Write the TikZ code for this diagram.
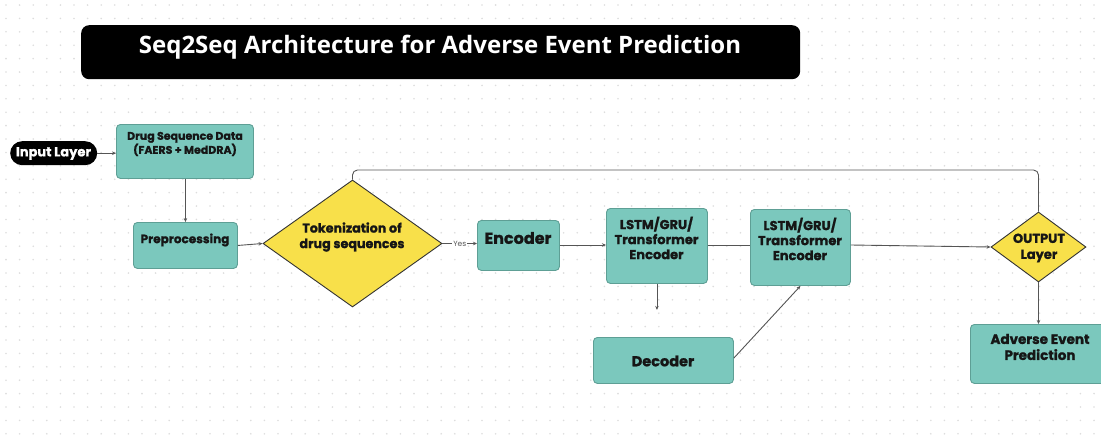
\documentclass[tikz,border=0pt]{standalone}
\usepackage{fontspec}
\setmainfont{Poppins}[BoldFeatures={FakeBold=1.2}]
\newfontfamily\titlefont{Open Sans}
\usetikzlibrary{shapes.geometric,arrows.meta,calc}
\definecolor{teal}{HTML}{7BC8BD}
\definecolor{tealedge}{HTML}{5E9F95}
\definecolor{sun}{HTML}{F8E04A}
\definecolor{wire}{HTML}{555555}
\definecolor{dotc}{HTML}{DDDDDD}
\definecolor{ink}{HTML}{161616}
\tikzset{
  box/.style={draw=tealedge, line width=0.9pt, fill=teal, rounded corners=4pt, inner sep=0pt},
  boxtext/.style={text=ink, font=\bfseries, align=center, inner sep=0pt},
  pill/.style={fill=black, rounded corners=12pt, inner sep=0pt},
  rhomb/.style={diamond, draw=black!80, line width=0.9pt, fill=sun, inner sep=0pt},
  wirepath/.style={draw=wire, line width=0.9pt},
  arr/.style={wirepath, -{Stealth[length=4pt,width=3.5pt]}},
}
\begin{document}
\begin{tikzpicture}[x=1pt,y=-1pt]
\clip (0,0) rectangle (1101,445);
\fill[white] (0,0) rectangle (1101,445);
% dotted canvas
\foreach \i in {0,...,81}{
  \foreach \j in {0,...,33}{
    \fill[dotc] (\i*13.6+6, \j*13.4+5) circle (0.9);
  }
}

% title banner
\node[pill, rounded corners=8pt, minimum width=719, minimum height=54, anchor=north west] (title) at (81,25) {};
\node[text=white, font=\titlefont\bfseries\fontsize{24}{26}\selectfont, anchor=base] (titletext) at (440,53) {Seq2Seq Architecture for Adverse Event Prediction};

% input stage
\node[pill, minimum width=87, minimum height=24, anchor=north west] (input) at (10,141) {};
\node[text=white, font=\bfseries\fontsize{13}{14}\selectfont] (inputtext) at (53.5,153.5) {Input Layer};

\node[box, minimum width=137, minimum height=54, anchor=north west] (drug) at (116,124) {};
\node[boxtext, font=\bfseries\fontsize{11}{14}\selectfont] (drugtext) at (185,144) {Drug Sequence Data\\(FAERS + MedDRA)};

\node[box, minimum width=104, minimum height=46, anchor=north west] (prep) at (133,222) {};
\node[boxtext, font=\bfseries\fontsize{12}{14}\selectfont] (preptext) at (185,240) {Preprocessing};

% tokenization decision
\node[rhomb, minimum width=179, minimum height=127] (tok) at (352.5,243.5) {};
\node[boxtext, font=\bfseries\fontsize{12.7}{15.5}\selectfont] (toktext) at (352,237) {Tokenization of\\drug sequences};

% encoder stack
\node[box, minimum width=82, minimum height=50, anchor=north west] (enc) at (477,220) {};
\node[boxtext, font=\bfseries\fontsize{16}{18}\selectfont] (enctext) at (518,238) {Encoder};

\node[box, minimum width=101, minimum height=75, anchor=north west] (lstma) at (606,208) {};
\node[boxtext, font=\bfseries\fontsize{13}{15}\selectfont] (lstmatext) at (656.5,238) {LSTM/GRU/\\Transformer\\Encoder};

\node[box, minimum width=100, minimum height=76, anchor=north west] (lstmb) at (750,209) {};
\node[boxtext, font=\bfseries\fontsize{13}{15}\selectfont] (lstmbtext) at (800,239) {LSTM/GRU/\\Transformer\\Encoder};

\node[box, minimum width=140, minimum height=46, anchor=north west] (dec) at (593,337) {};
\node[boxtext, font=\bfseries\fontsize{14.5}{16}\selectfont] (dectext) at (663,361) {Decoder};

% output stage
\node[rhomb, minimum width=95, minimum height=70] (out) at (1038.5,247) {};
\node[boxtext, font=\bfseries\fontsize{13}{16}\selectfont] (outtext) at (1039,248) {OUTPUT\\Layer};

\node[box, minimum width=140, minimum height=59, anchor=north west] (aep) at (970,324) {};
\node[boxtext, font=\bfseries\fontsize{13.5}{16}\selectfont] (aeptext) at (1040,347) {Adverse Event\\Prediction};

% connectors
\draw[arr] (input.east) -- (drug.west |- input.east);
\draw[arr] (drug.south -| prep.north) -- (prep.north);
\draw[arr] (prep.east) -- (tok.west);
\draw[arr] (tok.east) -- node[fill=white, inner sep=1.2pt, text=wire, font=\fontsize{7.5}{8}\selectfont] (yes) {Yes} (enc.west |- tok.east);
\draw[arr] (enc.east |- 0,245) -- (lstma.west |- 0,245);
\draw[wirepath] (lstma.east |- 0,245) -- (lstmb.west |- 0,245);
\draw[arr] (lstmb.east |- 0,245) -- (out.west);
\coordinate (lstmadrop) at ($(lstma.south)+(0,26)$);
\draw[arr] (lstma.south) -- (lstmadrop);
\draw[arr] (dec.east |- 0,358) -- (lstmb.south);
\draw[arr] (out.south) -- (aep.north -| out.south);
\draw[wirepath, rounded corners=5pt] (tok.north) -- (352.5,170) -- (1038.5,170) -- (out.north);
\end{tikzpicture}
\end{document}
